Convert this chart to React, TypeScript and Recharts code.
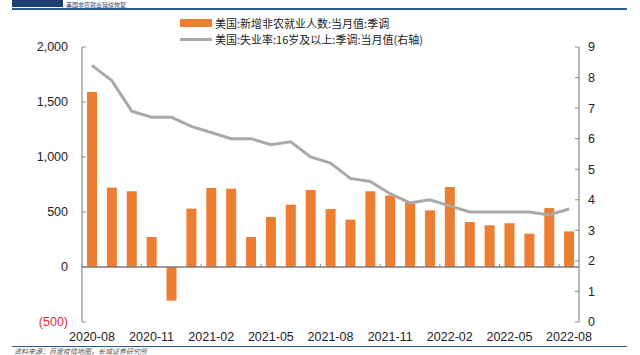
import { Bar, ComposedChart, Line, ReferenceLine, XAxis, YAxis } from "recharts";

const months = [
  "2020-08", "2020-09", "2020-10", "2020-11", "2020-12",
  "2021-01", "2021-02", "2021-03", "2021-04", "2021-05", "2021-06",
  "2021-07", "2021-08", "2021-09", "2021-10", "2021-11", "2021-12",
  "2022-01", "2022-02", "2022-03", "2022-04", "2022-05", "2022-06",
  "2022-07", "2022-08",
];

// 新增非农就业人数 (千人)
const payrolls = [
  1590, 722, 688, 273, -306, 531, 718, 712, 273, 455, 567, 700, 527,
  431, 688, 650, 588, 515, 727, 409, 379, 397, 303, 536, 324,
];

// 失业率 (%)
const unemployment = [
  8.4, 7.9, 6.9, 6.7, 6.7, 6.4, 6.2, 6.0, 6.0, 5.8, 5.9, 5.4, 5.2,
  4.7, 4.6, 4.2, 3.9, 4.0, 3.8, 3.6, 3.6, 3.6, 3.6, 3.5, 3.7,
];

const leftTicks = [-500, 0, 500, 1000, 1500, 2000];
const rightTicks = [0, 1, 2, 3, 4, 5, 6, 7, 8, 9];

const barName = "美国:新增非农就业人数:当月值:季调";
const lineName = "美国:失业率:16岁及以上:季调:当月值(右轴)";
const titleText = "美国非农就业延续恢复";
const sourceText = "资料来源：百度疫情地图，长城证券研究所";

const W = 640;
const H = 355;
const PLOT_TOP = 47;
const PLOT_BOTTOM = 322;
const LEFT_W = 82;
const RIGHT_W = 61;
const BAND = (W - LEFT_W - RIGHT_W) / months.length;
const ZERO_Y = PLOT_TOP + ((PLOT_BOTTOM - PLOT_TOP) * 2000) / 2500;

const ORANGE = "#ED7D31";
const GRAY = "#A9A9A9";
const AXIS = "#8c8c8c";
const NUM_FONT = "'Liberation Sans', Arial, sans-serif";
const CJK_FONT = "'Noto Sans CJK SC', sans-serif";

const data = months.map((m, i) => ({
  month: m,
  payrolls: payrolls[i],
  rate: unemployment[i],
}));

const formatLeft = (v: number) =>
  v < 0 ? `(${Math.abs(v).toLocaleString("en-US")})` : v.toLocaleString("en-US");

const LeftTick = (props: any) => {
  const { x, y, payload } = props;
  return (
    <text
      x={x}
      y={y}
      dy="0.35em"
      textAnchor="end"
      fontSize={12.5}
      fontFamily={NUM_FONT}
      fill={payload.value < 0 ? "#d62c3f" : "#222"}
    >
      {formatLeft(payload.value)}
    </text>
  );
};

const XTick = (props: any) => {
  const { x, payload } = props;
  const off = payload.offset ?? BAND / 2;
  return (
    <g>
      <line x1={x - off} x2={x - off} y1={ZERO_Y} y2={ZERO_Y - 3} stroke={AXIS} />
      <text
        x={x}
        y={PLOT_BOTTOM + 15}
        dy="0.35em"
        textAnchor="middle"
        fontSize={12.5}
        fontFamily={NUM_FONT}
        fill="#222"
      >
        {payload.value}
      </text>
    </g>
  );
};

const App = () => {
  return (
    <div style={{ position: "absolute", left: 0, top: 0, width: W, height: H, background: "#fff", overflow: "hidden" }}>
      {/* header strip */}
      <div style={{ position: "absolute", left: 12, top: 0, width: 51, height: 7, background: "#1f3f6e" }} />
      <div
        style={{
          position: "absolute",
          left: 66,
          top: 0.5,
          fontFamily: CJK_FONT,
          fontSize: 6,
          lineHeight: "7px",
          color: "#1f3f6e",
          whiteSpace: "nowrap",
        }}
      >
        {titleText}
      </div>
      <div style={{ position: "absolute", left: 12, top: 8, width: 615, height: 1.5, background: "#2b5b8c" }} />

      {/* legend */}
      <div style={{ position: "absolute", left: 180, top: 15, fontFamily: CJK_FONT, fontSize: 11, color: "#222", lineHeight: "16px" }}>
        <div style={{ display: "flex", alignItems: "center", whiteSpace: "nowrap" }}>
          <span style={{ display: "inline-block", width: 32, height: 8, background: ORANGE, marginRight: 3 }} />
          {barName}
        </div>
        <div style={{ display: "flex", alignItems: "center", whiteSpace: "nowrap" }}>
          <span style={{ display: "inline-block", width: 32, height: 3, background: GRAY, marginRight: 3 }} />
          {lineName}
        </div>
      </div>

      <ComposedChart width={W} height={H} data={data} margin={{ top: PLOT_TOP, right: 0, bottom: 0, left: 0 }}>
        <XAxis
          dataKey="month"
          height={H - PLOT_BOTTOM}
          interval={2}
          axisLine={false}
          tickLine={false}
          tick={XTick}
        />
        <YAxis
          yAxisId="left"
          width={LEFT_W}
          domain={[-500, 2000]}
          ticks={leftTicks}
          interval={0}
          axisLine={{ stroke: AXIS, strokeWidth: 1.2 }}
          tickLine={{ stroke: AXIS }}
          tickSize={-4}
          tickMargin={18}
          tick={LeftTick}
        />
        <YAxis
          yAxisId="right"
          orientation="right"
          width={RIGHT_W}
          domain={[0, 9]}
          ticks={rightTicks}
          interval={0}
          axisLine={{ stroke: AXIS, strokeWidth: 1.2 }}
          tickLine={{ stroke: AXIS }}
          tickSize={-4}
          tickMargin={13}
          tick={{ fontSize: 12.5, fontFamily: NUM_FONT, fill: "#222" }}
        />
        <Bar
          yAxisId="left"
          dataKey="payrolls"
          name={barName}
          fill={ORANGE}
          barSize={10}
          isAnimationActive={false}
        />
        <ReferenceLine yAxisId="left" y={0} stroke="#7a7a7a" strokeWidth={1.5} />
        <Line
          yAxisId="right"
          type="linear"
          dataKey="rate"
          name={lineName}
          stroke={GRAY}
          strokeWidth={3}
          dot={false}
          isAnimationActive={false}
        />
      </ComposedChart>

      {/* footer */}
      <div style={{ position: "absolute", left: 12, top: 345.5, width: 615, height: 1.5, background: "#2b5b8c" }} />
      <div
        style={{
          position: "absolute",
          left: 14,
          top: 347.5,
          fontFamily: CJK_FONT,
          fontSize: 7,
          lineHeight: "7px",
          fontStyle: "italic",
          color: "#555",
          whiteSpace: "nowrap",
        }}
      >
        {sourceText}
      </div>
    </div>
  );
};

export default App;
